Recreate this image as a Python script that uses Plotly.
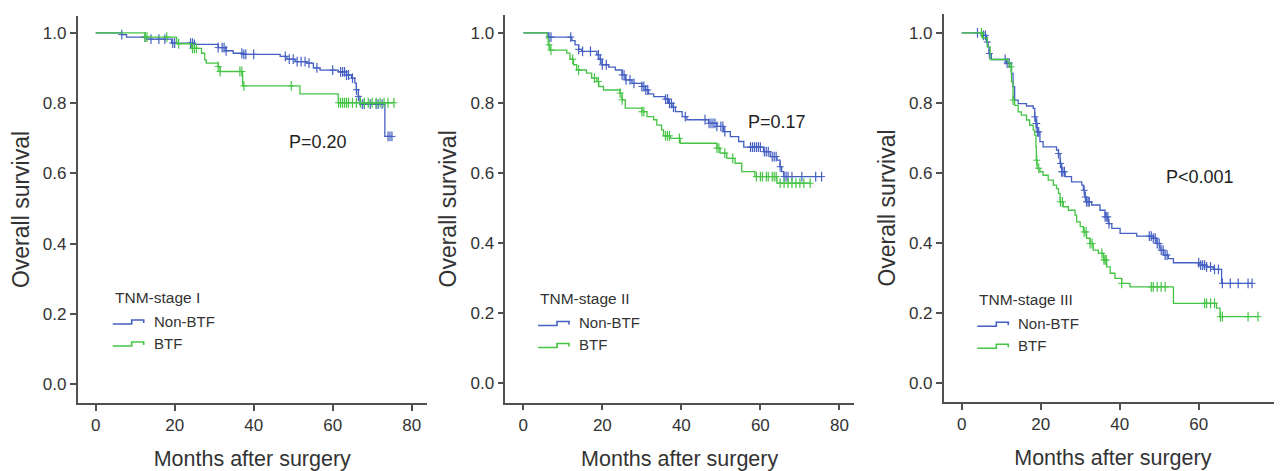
import numpy as np
import plotly.graph_objects as go

# page body has an 8px default margin; figure is sized to fill the rest of the window
OFF = 8
W, H = 1282 - OFF, 471 - OFF

# ---------------- data ----------------
# Stage I
s1_nb_time = [6.6, 7.8, 12.9, 19.2, 24.7, 31.0, 33.0, 34.8, 37.4, 46.7, 48.4, 50.5, 53.4, 55.1, 56.8, 61.4, 63.5, 64.8, 65.6, 66.0, 66.5, 66.9, 73.2]
s1_nb_surv = [0.995, 0.988, 0.982, 0.971, 0.967, 0.958, 0.949, 0.942, 0.939, 0.933, 0.925, 0.918, 0.914, 0.900, 0.894, 0.889, 0.880, 0.871, 0.857, 0.838, 0.819, 0.797, 0.705]
s1_nb_cens = [6.6, 12.5, 14, 16, 17.5, 19.5, 20, 24, 24.5, 25, 31, 32, 32.5, 33, 37, 37.5, 38, 40, 48, 49, 50, 51, 52, 53, 54, 56, 60, 62, 62.5, 63, 63.5, 64, 65, 66, 66.5, 67.5, 68, 69.5, 71, 71.5, 72.5, 74, 74.5, 75]
s1_b_time = [12.5, 20.5, 24.3, 26.8, 27.6, 28.0, 31.0, 31.5, 37.2, 51.7, 61.4]
s1_b_surv = [0.988, 0.969, 0.956, 0.942, 0.923, 0.914, 0.904, 0.890, 0.849, 0.826, 0.801]
s1_b_cens = [12.5, 13, 18, 21, 24.5, 25, 25.5, 31, 31.5, 36.5, 37, 37.5, 49.5, 61.5, 62, 62.5, 63, 63.5, 64, 65, 66, 67, 68, 69, 70, 71, 72, 73, 74, 75.5]

# Stage II
s2_nb_time = [6.3, 12.3, 13.1, 14.0, 14.8, 18.6, 19.1, 19.9, 21.6, 23.3, 25.0, 25.8, 27.5, 30.0, 30.9, 31.7, 33.0, 35.9, 36.8, 37.6, 38.5, 40.2, 41.4, 46.9, 49.0, 50.7, 52.4, 54.5, 55.8, 60.8, 62.5, 64.2, 65.0, 65.4, 65.9]
s2_nb_surv = [0.988, 0.978, 0.966, 0.953, 0.947, 0.937, 0.925, 0.909, 0.902, 0.894, 0.880, 0.866, 0.856, 0.847, 0.837, 0.826, 0.818, 0.811, 0.799, 0.788, 0.775, 0.761, 0.752, 0.742, 0.733, 0.718, 0.704, 0.690, 0.674, 0.661, 0.647, 0.637, 0.618, 0.604, 0.590]
s2_nb_cens = [6.5, 7, 12, 14, 15, 17, 19, 19.5, 20, 21, 25, 25.5, 26, 27, 28, 30, 30.5, 31, 31.5, 36, 36.5, 37, 37.5, 38, 41, 46, 47, 47.5, 48, 48.5, 49, 50, 50.5, 51, 57.5, 58, 58.5, 59, 59.5, 60, 61, 61.5, 62, 63, 63.5, 64, 65, 66, 66.5, 67, 68, 70.5, 74, 75.5]
s2_b_time = [6.0, 6.3, 6.7, 11.0, 11.8, 12.7, 13.5, 16.0, 17.3, 18.6, 19.1, 20.3, 24.5, 25.0, 25.8, 30.0, 31.3, 33.0, 33.8, 35.0, 35.5, 37.2, 39.7, 49.0, 49.8, 51.5, 53.6, 55.3, 58.6, 64.2]
s2_b_surv = [0.985, 0.966, 0.951, 0.942, 0.925, 0.909, 0.894, 0.885, 0.871, 0.861, 0.847, 0.837, 0.828, 0.809, 0.785, 0.775, 0.761, 0.752, 0.737, 0.723, 0.706, 0.699, 0.685, 0.671, 0.657, 0.642, 0.628, 0.604, 0.590, 0.571]
s2_b_cens = [6.5, 7, 12.5, 14, 18, 19, 24.5, 25, 30, 30.5, 36, 36.5, 37, 39.5, 49, 49.5, 51, 53, 59, 60, 60.5, 61.5, 62, 63, 63.5, 64, 65, 66, 67, 68, 69, 70, 71, 72.6]

# Stage III
s3_nb_time = [5.5, 6.3, 6.7, 6.9, 7.5, 11.3, 12.6, 13.0, 13.4, 14.3, 16.4, 18.1, 18.5, 18.8, 19.1, 19.8, 20.6, 24.0, 24.5, 24.9, 25.3, 26.2, 27.8, 30.4, 30.8, 31.2, 31.6, 32.9, 35.0, 36.3, 37.1, 38.0, 40.1, 44.3, 48.5, 49.4, 50.2, 51.1, 52.3, 53.6, 60.3, 62.0, 63.7, 65.8]
s3_nb_surv = [0.993, 0.974, 0.960, 0.941, 0.924, 0.914, 0.884, 0.846, 0.808, 0.798, 0.791, 0.784, 0.760, 0.741, 0.717, 0.689, 0.674, 0.665, 0.655, 0.627, 0.603, 0.589, 0.574, 0.565, 0.550, 0.531, 0.517, 0.508, 0.493, 0.474, 0.455, 0.441, 0.427, 0.419, 0.413, 0.398, 0.379, 0.365, 0.355, 0.343, 0.336, 0.331, 0.324, 0.284]
s3_nb_cens = [4, 5.5, 6, 6.5, 7, 11, 11.5, 12, 18.5, 18.8, 19, 19.2, 19.5, 24.5, 25, 25.3, 25.6, 26, 31, 31.3, 31.6, 32, 32.3, 36.3, 36.6, 37, 37.3, 47.5, 48, 48.5, 49, 49.5, 50, 50.5, 51, 51.5, 52, 60, 60.5, 61, 61.5, 62, 63, 64, 65, 66, 68, 70, 72.5, 73.5]
s3_b_time = [5.3, 6.5, 7.2, 11.7, 12.1, 12.6, 13.0, 13.4, 14.3, 15.1, 16.4, 17.2, 18.1, 18.5, 18.8, 18.9, 19.1, 19.8, 20.6, 21.9, 23.2, 24.0, 24.5, 24.9, 25.7, 27.0, 28.7, 29.1, 30.0, 30.8, 31.6, 32.5, 33.3, 34.6, 35.9, 36.7, 37.6, 38.8, 40.5, 42.6, 53.6, 64.5, 65.4]
s3_b_surv = [0.985, 0.960, 0.924, 0.916, 0.903, 0.860, 0.808, 0.793, 0.774, 0.765, 0.751, 0.736, 0.722, 0.708, 0.674, 0.636, 0.613, 0.603, 0.593, 0.579, 0.565, 0.555, 0.541, 0.517, 0.503, 0.493, 0.479, 0.460, 0.446, 0.431, 0.413, 0.398, 0.379, 0.370, 0.351, 0.331, 0.313, 0.298, 0.284, 0.274, 0.227, 0.213, 0.189]
s3_b_cens = [5, 12.5, 13, 19, 19.5, 25, 25.5, 31, 31.5, 32.5, 33, 35.5, 36, 36.3, 36.6, 40.5, 48, 48.5, 49.5, 50.5, 51.5, 61.5, 62, 63, 64, 65.5, 66, 72.5, 75]

stage_names = ["TNM-stage I", "TNM-stage II", "TNM-stage III"]
p_values = ["P=0.20", "P=0.17", "P<0.001"]
group_names = ["Non-BTF", "BTF"]
x_ticks = [0, 20, 40, 60, 80]
y_ticks = [0.0, 0.2, 0.4, 0.6, 0.8, 1.0]

BLUE = "#4560c2"
GREEN = "#45c445"
AX = "#505050"
TXT = "#333333"
FONT = "Liberation Sans, Arial, sans-serif"

panels = [
    dict(nb=(s1_nb_time, s1_nb_surv, s1_nb_cens), b=(s1_b_time, s1_b_surv, s1_b_cens),
         xdom=(77.5, 427.0), ydom=(403.0, 16.0), xr=(-4.61, 83.87), yr=(-0.054, 1.048),
         leg=(112.7, 297.0), p=(317.5, 141.5)),
    dict(nb=(s2_nb_time, s2_nb_surv, s2_nb_cens), b=(s2_b_time, s2_b_surv, s2_b_cens),
         xdom=(505.3, 854.0), ydom=(402.7, 15.0), xr=(-4.56, 83.7), yr=(-0.0554, 1.051),
         leg=(538.0, 298.5), p=(776.5, 122.0)),
    dict(nb=(s3_nb_time, s3_nb_surv, s3_nb_cens), b=(s3_b_time, s3_b_surv, s3_b_cens),
         xdom=(943.7, 1282.0), ydom=(402.0, 14.0), xr=(-4.56, 81.09), yr=(-0.0551, 1.054),
         leg=(977.3, 299.3), p=(1200.0, 176.5)),
]


def px(x):
    return min(max((x - OFF) / W, 0.0), 1.0)


def py(y):
    return min(max(1 - (y - OFF) / H, 0.0), 1.0)


def km_line(times, surv, cens):
    end = max(max(cens), max(times))
    return [0] + list(times) + [end], [1.0] + list(surv) + [surv[-1]]


def cens_y(times, surv, cens):
    t = np.asarray(times)
    s = np.asarray(surv)
    idx = np.searchsorted(t, np.asarray(cens), side="right") - 1
    return np.where(idx < 0, 1.0, s[np.clip(idx, 0, None)])


fig = go.Figure()
annotations = []
shapes = []
layout = {}

for i, p in enumerate(panels):
    k = "" if i == 0 else str(i + 1)
    xa, ya = "x" + k, "y" + k
    for key, col in (("nb", BLUE), ("b", GREEN)):
        t, s, c = p[key]
        lx, ly = km_line(t, s, c)
        fig.add_trace(go.Scatter(x=lx, y=ly, mode="lines", line=dict(color=col, width=1.3, shape="hv"),
                                 xaxis=xa, yaxis=ya, showlegend=False, hoverinfo="skip"))
        cy = cens_y(t, s, c)
        fig.add_trace(go.Scatter(x=c, y=cy, mode="markers",
                                 marker=dict(symbol="line-ns", size=7, line=dict(color=col, width=1.2)),
                                 xaxis=xa, yaxis=ya, showlegend=False, hoverinfo="skip"))
        fig.add_trace(go.Scatter(x=c, y=cy, mode="markers",
                                 marker=dict(symbol="line-ew", size=5, line=dict(color=col, width=1.0)),
                                 xaxis=xa, yaxis=ya, showlegend=False, hoverinfo="skip"))

    common = dict(showline=True, linecolor=AX, linewidth=1.5, ticks="outside", ticklen=6,
                  tickwidth=1.5, tickcolor=AX, showgrid=False, zeroline=False,
                  tickfont=dict(family=FONT, size=17, color=TXT))
    layout["xaxis" + k] = dict(domain=[px(p["xdom"][0]), px(p["xdom"][1])], range=list(p["xr"]),
                               tickvals=x_ticks, anchor=ya,
                               title=dict(text="Months after surgery", standoff=17,
                                          font=dict(family=FONT, size=21.5, color=TXT)),
                               **common)
    layout["yaxis" + k] = dict(domain=[py(p["ydom"][0]), py(p["ydom"][1])], range=list(p["yr"]),
                               tickvals=y_ticks, tickformat=".1f", anchor=xa,
                               title=dict(text="Overall survival", standoff=7,
                                          font=dict(family=FONT, size=23, color=TXT)),
                               **common)

    lx0, ly0 = p["leg"]
    annotations.append(dict(x=px(lx0), y=py(ly0), xref="paper", yref="paper", text=stage_names[i],
                            showarrow=False, xanchor="left", yanchor="middle",
                            font=dict(family=FONT, size=15.5, color=TXT)))
    for j, (g, col) in enumerate(zip(group_names, (BLUE, GREEN))):
        yb = ly0 + 24 + j * 22
        x0, x1, x2 = lx0, lx0 + 19, lx0 + 31
        path = (f"M {px(x0)},{py(yb + 3)} L {px(x1)},{py(yb + 3)} L {px(x1)},{py(yb - 1)} "
                f"L {px(x2)},{py(yb - 1)} L {px(x2)},{py(yb + 2)}")
        shapes.append(dict(type="path", path=path, xref="paper", yref="paper",
                           line=dict(color=col, width=1.6)))
        annotations.append(dict(x=px(x2 + 8), y=py(yb), xref="paper", yref="paper", text=g,
                                showarrow=False, xanchor="left", yanchor="middle",
                                font=dict(family=FONT, size=15, color=TXT)))
    annotations.append(dict(x=px(p["p"][0]), y=py(p["p"][1]), xref="paper", yref="paper",
                            text=p_values[i], showarrow=False, xanchor="center", yanchor="middle",
                            font=dict(family=FONT, size=18, color="#222222")))

fig.update_layout(width=W, height=H, margin=dict(l=0, r=0, t=0, b=0),
                  paper_bgcolor="white", plot_bgcolor="white",
                  annotations=annotations, shapes=shapes, showlegend=False, **layout)

fig.write_html("out.html")
